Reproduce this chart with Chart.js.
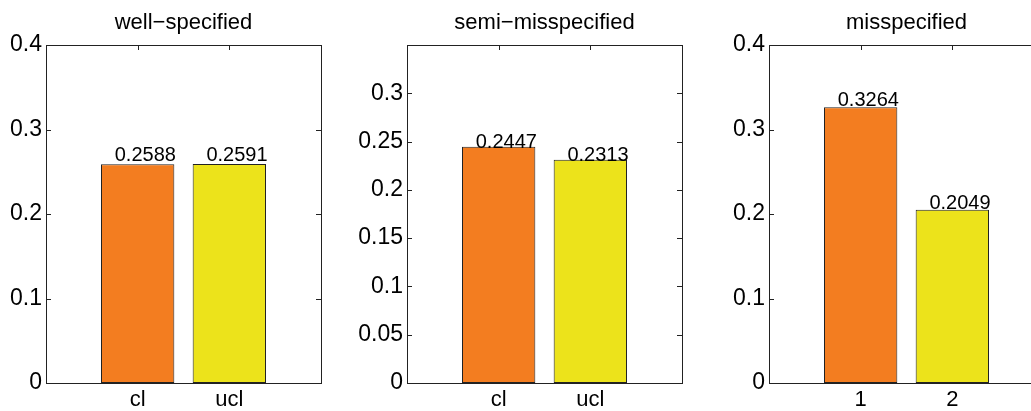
<!DOCTYPE html>
<html>
<head>
<meta charset="utf-8">
<script src="https://cdn.jsdelivr.net/npm/chart.js@4.4.1/dist/chart.umd.min.js"></script>
<style>
  html, body { margin: 0; padding: 0; background: #ffffff; overflow: hidden; width: 1031px; height: 411px; }
  .panel { position: absolute; top: 0; }
</style>
</head>
<body>
<canvas id="chart1" class="panel"></canvas>
<canvas id="chart2" class="panel"></canvas>
<canvas id="chart3" class="panel"></canvas>
<script>
// values
const panelTitles = ['well\u2212specified', 'semi\u2212misspecified', 'misspecified'];
const wellLabels = ['cl', 'ucl'];
const semiLabels = ['cl', 'ucl'];
const misLabels = ['1', '2'];
const wellValues = [0.2588, 0.2591];
const semiValues = [0.2447, 0.2313];
const misValues = [0.3264, 0.2049];
const yMaxes = [0.4, 0.35, 0.4];
const ySteps = [0.1, 0.05, 0.1];

const barColors = ['#F37D20', '#ECE31B'];
const lineColor = '#222222';
const fontFamily = '"Liberation Sans", Arial, Helvetica, sans-serif';

// axes boxes (left edge of plot area, width), the last one runs off the page like in the reference
const axesLeft = [46, 407, 769];
const axesWidth = 275;
const yAxisWidth = 60;
const rightPad = 15;

// frame and inward MATLAB style tick marks, drawn under the bars
const framePlugin = {
  id: 'frame',
  beforeDatasetsDraw(chart) {
    const { ctx, chartArea: a, scales } = chart;
    const tl = 5;
    ctx.save();
    ctx.strokeStyle = lineColor;
    ctx.lineWidth = 1;
    ctx.beginPath();
    scales.y.ticks.forEach(t => {
      const y = Math.round(scales.y.getPixelForValue(t.value)) + 0.5;
      ctx.moveTo(a.left, y); ctx.lineTo(a.left + tl, y);
      ctx.moveTo(a.right, y); ctx.lineTo(a.right - tl, y);
    });
    scales.x.ticks.forEach(t => {
      const x = Math.round(scales.x.getPixelForValue(t.value)) + 0.5;
      ctx.moveTo(x, a.top); ctx.lineTo(x, a.top + tl);
      ctx.moveTo(x, a.bottom); ctx.lineTo(x, a.bottom - tl);
    });
    ctx.stroke();
    ctx.strokeRect(Math.round(a.left) + 0.5, Math.round(a.top) + 0.5,
      Math.round(a.right - a.left), Math.round(a.bottom - a.top));
    ctx.restore();
  }
};

// value text above each bar, left aligned a quarter unit before the bar centre
const valueLabelPlugin = {
  id: 'valueLabels',
  afterDatasetsDraw(chart, args, opts) {
    const { ctx, scales } = chart;
    ctx.save();
    ctx.fillStyle = '#000000';
    ctx.font = '20px ' + fontFamily;
    ctx.textAlign = 'left';
    ctx.textBaseline = 'alphabetic';
    chart.data.datasets[0].data.forEach(p => {
      const x = scales.x.getPixelForValue(p.x - 0.25);
      const y = scales.y.getPixelForValue(p.y) + (opts.dy || 0);
      ctx.fillText(p.y.toFixed(4), x, y);
    });
    ctx.restore();
  }
};

const fmtTick = (v, max) => {
  if (v > max - 1e-9 && max !== 0.4) return '';
  return String(parseFloat(v.toFixed(2)));
};

function makePanel(canvasId, idx, labels, values, labelDy) {
  const canvas = document.getElementById(canvasId);
  const w = yAxisWidth + axesWidth + rightPad;
  canvas.width = w;
  canvas.height = 411;
  canvas.style.left = (axesLeft[idx] - yAxisWidth) + 'px';
  canvas.style.width = w + 'px';
  canvas.style.height = '411px';

  const points = values.map((v, i) => ({ x: i + 1, y: v }));

  return new Chart(canvas.getContext('2d'), {
    type: 'bar',
    data: {
      datasets: [{
        data: points,
        backgroundColor: barColors,
        borderColor: lineColor,
        borderWidth: 1,
        borderSkipped: false,
        barPercentage: 0.8,
        categoryPercentage: 1,
      }],
    },
    options: {
      responsive: false,
      animation: false,
      events: [],
      layout: { padding: { left: 0, right: rightPad, top: 0, bottom: 0 } },
      plugins: {
        legend: { display: false },
        tooltip: { enabled: false },
        title: {
          display: true,
          fullSize: false,
          text: panelTitles[idx],
          color: '#000000',
          font: { family: fontFamily, size: 22, weight: 'normal', lineHeight: 1.2 },
          padding: { top: 10, bottom: 8.6 },
        },
        valueLabels: { dy: labelDy },
      },
      scales: {
        x: {
          type: 'linear',
          min: 0,
          max: 3,
          offset: false,
          grid: { display: false, drawTicks: false },
          border: { display: false },
          afterBuildTicks: (scale) => { scale.ticks = [{ value: 1 }, { value: 2 }]; },
          afterFit: (scale) => { scale.height = 28; },
          ticks: {
            color: '#000000',
            padding: 4,
            maxRotation: 0,
            font: { family: fontFamily, size: 22 },
            callback: (v) => labels[v - 1] || '',
          },
        },
        y: {
          min: 0,
          max: yMaxes[idx],
          grid: { display: false, drawTicks: false },
          border: { display: false },
          afterFit: (scale) => { scale.width = yAxisWidth; },
          ticks: {
            stepSize: ySteps[idx],
            color: '#000000',
            padding: 4,
            font: { family: fontFamily, size: 23 },
            callback: (v) => fmtTick(v, yMaxes[idx]),
          },
        },
      },
    },
    plugins: [framePlugin, valueLabelPlugin],
  });
}

makePanel('chart1', 0, wellLabels, wellValues, -3);
makePanel('chart2', 1, semiLabels, semiValues, 1);
makePanel('chart3', 2, misLabels, misValues, -1);
</script>
</body>
</html>
